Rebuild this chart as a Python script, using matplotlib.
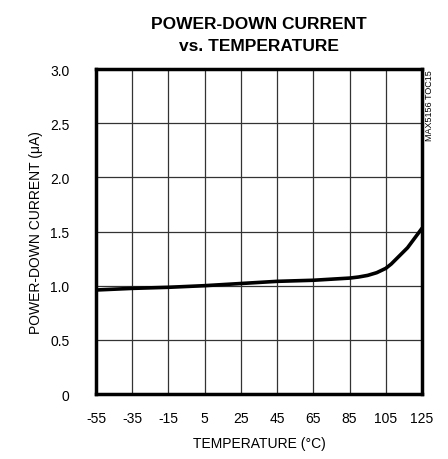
import matplotlib
matplotlib.use('Agg')
import matplotlib.pyplot as plt

plt.rcParams['font.family'] = ['Liberation Sans Narrow', 'Liberation Sans', 'DejaVu Sans']
plt.rcParams['axes.unicode_minus'] = False

# curve
temp = [-55, -35, -15, 5, 25, 45, 65, 85, 90, 95, 100, 105, 108, 111, 114, 117, 121, 125]
current = [0.96, 0.975, 0.985, 1.0, 1.02, 1.04, 1.05, 1.07, 1.08, 1.095, 1.12, 1.16, 1.2, 1.25, 1.3, 1.35, 1.44, 1.53]

x_ticks = [-55, -35, -15, 5, 25, 45, 65, 85, 105, 125]
y_ticks = [0, 0.5, 1.0, 1.5, 2.0, 2.5, 3.0]
y_labels = ['0', '0.5', '1.0', '1.5', '2.0', '2.5', '3.0']

fig = plt.figure(figsize=(4.48, 4.6), dpi=100)
ax = fig.add_axes([0.2143, 0.1413, 0.7277, 0.7065])

ax.plot(temp, current, color='black', lw=2.6, solid_capstyle='round')

ax.set_xlim(-55, 125)
ax.set_ylim(0, 3.0)
ax.set_xticks(x_ticks)
ax.set_yticks(y_ticks)
ax.set_yticklabels(y_labels)
ax.grid(True, color='#333333', lw=0.9)
ax.tick_params(axis='x', length=0, labelsize=10, pad=12)
ax.tick_params(axis='y', length=0, labelsize=10, pad=19)
for s in ax.spines.values():
    s.set_linewidth(2.5)

ax.set_xlabel('TEMPERATURE (°C)', fontsize=10, labelpad=8)
ax.set_ylabel('POWER-DOWN CURRENT (μA)', fontsize=10, labelpad=5)
ax.set_title('POWER-DOWN CURRENT\nvs. TEMPERATURE', fontsize=12.5, fontweight='bold',
             pad=14, linespacing=1.55)

fig.text(0.958, 0.848, 'MAX5156 TOC15', rotation=90, fontsize=6.5, ha='center', va='top')

fig.savefig('out.png', dpi=100)
